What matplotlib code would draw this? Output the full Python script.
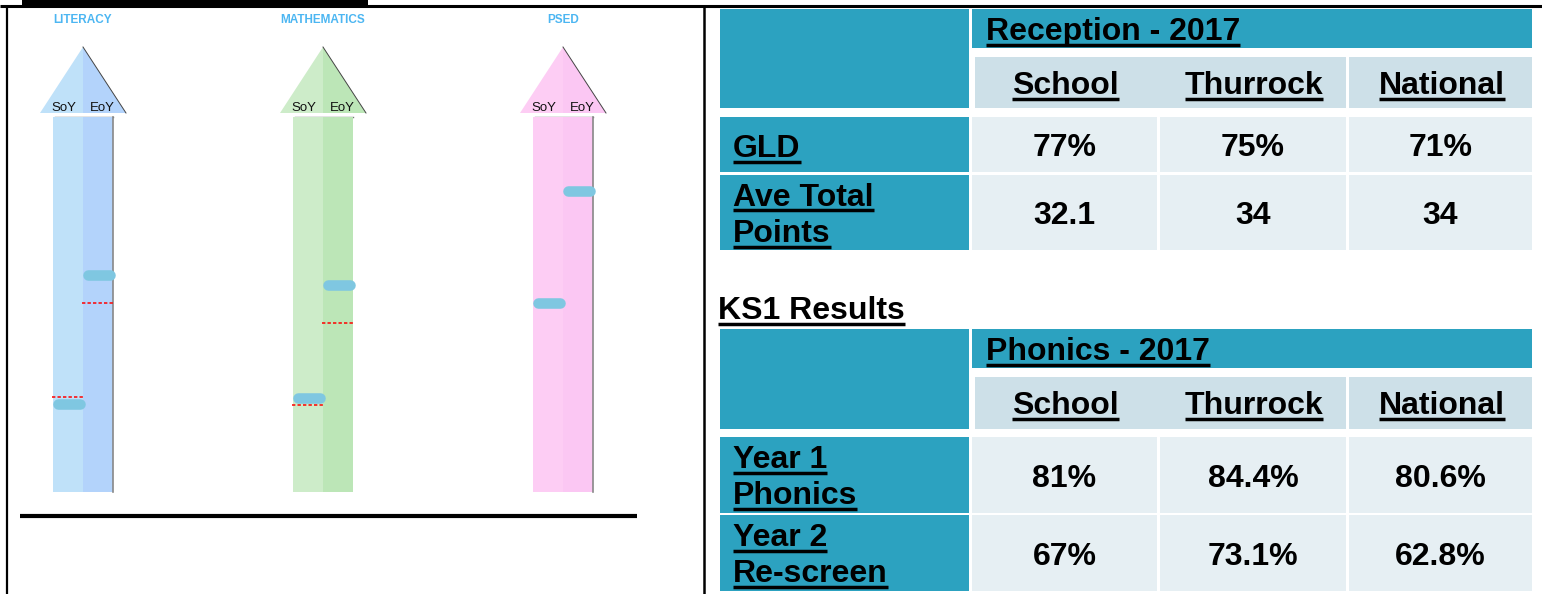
import matplotlib
matplotlib.use('Agg')
import matplotlib.pyplot as plt
from matplotlib.patches import Rectangle, Polygon
import numpy as np

W, H = 1542, 594

# ---------------- data ----------------
subjects = ['LITERACY', 'MATHEMATICS', 'PSED']
stages = ['SoY', 'EoY']
# position on the arrow scale (0 = bottom, 100 = top)
soy_actual = [23.5, 25.1, 50.4]
eoy_actual = [57.9, 55.2, 80.3]
soy_expected = [25.3, 23.2, np.nan]
eoy_expected = [50.4, 45.1, np.nan]

table_cols = ['School', 'Thurrock', 'National']
reception_title = 'Reception - 2017'
reception_rows = ['GLD', 'Ave Total\nPoints']
reception_vals = [['77%', '75%', '71%'],
                  ['32.1', '34', '34']]
ks1_title = 'KS1 Results'
phonics_title = 'Phonics - 2017'
phonics_rows = ['Year 1\nPhonics', 'Year 2\nRe-screen']
phonics_vals = [['81%', '84.4%', '80.6%'],
                ['67%', '73.1%', '62.8%']]

# ---------------- style ----------------
teal = '#2ca2c0'
sub_bg = '#cde0e8'
cell_bg = '#e6eff3'
title_blue = '#4cb6f2'
marker_col = '#7fc7e1'
arrow_cols = [('#bfe1f9', '#b3d3fb'), ('#cdecc9', '#bce6b7'), ('#fdcdf4', '#fbc7f3')]
font = 'Liberation Sans'
fs = 23

fig = plt.figure(figsize=(W / 100, H / 100), dpi=100)
ax = fig.add_axes([0, 0, 1, 1])
ax.set_xlim(0, W)
ax.set_ylim(H, 0)
ax.axis('off')

# frame lines
ax.add_patch(Rectangle((22, 0), 346, 4.5, color='black', lw=0))
ax.plot([0, W], [5.5, 5.5], color='black', lw=2.2, solid_capstyle='butt')
ax.plot([7, 7], [5, H], color='black', lw=1.6, solid_capstyle='butt')
ax.plot([704, 704], [5, H], color='black', lw=1.8, solid_capstyle='butt')
ax.plot([20, 637], [515.5, 515.5], color='black', lw=3, solid_capstyle='butt')

# ---------------- arrows ----------------
shaft_top, shaft_bot, half = 117, 492, 30
for i, name in enumerate(subjects):
    cx = 83 + 240 * i
    c_soy, c_eoy = arrow_cols[i]
    ax.text(cx, 20, name, color=title_blue, fontsize=8.5, fontweight='bold',
            family=font, ha='center', va='center')
    ax.add_patch(Polygon([(cx, 47), (cx - 43, 113), (cx, 113)], closed=True, color=c_soy, lw=0))
    ax.add_patch(Polygon([(cx, 47), (cx, 113), (cx + 43, 113)], closed=True, color=c_eoy, lw=0))
    ax.plot([cx, cx + 43], [47, 113], color='#444444', lw=0.7)
    ax.text(cx - 19, 111, stages[0], fontsize=9.5, family=font, color='#111111', ha='center', va='baseline')
    ax.text(cx + 19, 111, stages[1], fontsize=9.5, family=font, color='#111111', ha='center', va='baseline')
    ax.plot([cx - 28, cx + 30], [117, 117], color='#777777', lw=1)

    sax = fig.add_axes([(cx - half) / W, 1 - shaft_bot / H, 2 * half / W, (shaft_bot - shaft_top) / H])
    sax.set_xlim(0, 2)
    sax.set_ylim(0, 100)
    sax.axis('off')
    sax.bar([0.5, 1.5], [100, 100], width=1, color=[c_soy, c_eoy])
    if i != 1:
        sax.plot([2, 2], [0, 100], color='#888888', lw=1.2, clip_on=False)
    pairs = [(soy_actual[i], soy_expected[i]), (eoy_actual[i], eoy_expected[i])]
    for k, (act, exp) in enumerate(pairs):
        xc = 0.5 + k + 0.03
        sax.plot([xc - 0.38, xc + 0.38], [act, act], color=marker_col, lw=7.6,
                 solid_capstyle='round', clip_on=False)
        if not np.isnan(exp):
            sax.plot([xc - 0.55, xc + 0.55], [exp, exp], color='red', lw=1.1,
                     ls=(0, (2.2, 1.4)), clip_on=False)

# ---------------- tables ----------------
underlined = []


def utext(x, y, s, ha='left'):
    t = ax.text(x, y, s, fontsize=fs, fontweight='bold', family=font,
                color='black', ha=ha, va='baseline')
    underlined.append((t, y))
    return t


def ptext(x, y, s):
    ax.text(x, y, s, fontsize=fs, fontweight='bold', family=font,
            color='black', ha='center', va='baseline')


col_x = [(972, 1157), (1160, 1346), (1349, 1532)]


def draw_table(title, rows, vals, head_y, sub_y, row_y):
    ax.add_patch(Rectangle((720, head_y[0]), 249, sub_y[1] - head_y[0], color=teal, lw=0))
    ax.add_patch(Rectangle((972, head_y[0]), 1532 - 972, head_y[1] - head_y[0], color=teal, lw=0))
    utext(986, (head_y[0] + head_y[1]) / 2 + 11.5, title)
    for j, c in enumerate(table_cols):
        x0, x1 = col_x[j]
        ax.add_patch(Rectangle((x0 + (3 if j == 0 else 0), sub_y[0]), x1 - x0, sub_y[1] - sub_y[0],
                               color=sub_bg, lw=0))
        utext((x0 + x1) / 2 + 1, (sub_y[0] + sub_y[1]) / 2 + 11.5, c, ha='center')
    for r, label in enumerate(rows):
        y0, y1 = row_y[r]
        mid = (y0 + y1) / 2
        ax.add_patch(Rectangle((720, y0), 249, y1 - y0, color=teal, lw=0))
        lines = label.split('\n')
        bases = [mid + 12.5] if len(lines) == 1 else [mid - 7, mid + 29.5]
        for line, yb in zip(lines, bases):
            utext(733, yb, line)
        for j, v in enumerate(vals[r]):
            x0, x1 = col_x[j]
            ax.add_patch(Rectangle((x0, y0), x1 - x0, y1 - y0, color=cell_bg, lw=0))
            ptext((x0 + x1) / 2, mid + 12, v)


draw_table(reception_title, reception_rows, reception_vals,
           (9, 48), (57, 108), [(117, 172), (175, 250)])
utext(718, 319, ks1_title)
draw_table(phonics_title, phonics_rows, phonics_vals,
           (329, 368), (377, 429), [(437, 513), (515, 591)])

# underlines
fig.canvas.draw()
renderer = fig.canvas.get_renderer()
inv = ax.transData.inverted()
for t, yb in underlined:
    bb = t.get_window_extent(renderer)
    (x0, _), (x1, _) = inv.transform([[bb.x0, bb.y0], [bb.x1, bb.y1]])
    ax.plot([x0, x1], [yb + 4.5, yb + 4.5], color='black', lw=2.5, solid_capstyle='butt')

fig.savefig('out.png', dpi=100)
